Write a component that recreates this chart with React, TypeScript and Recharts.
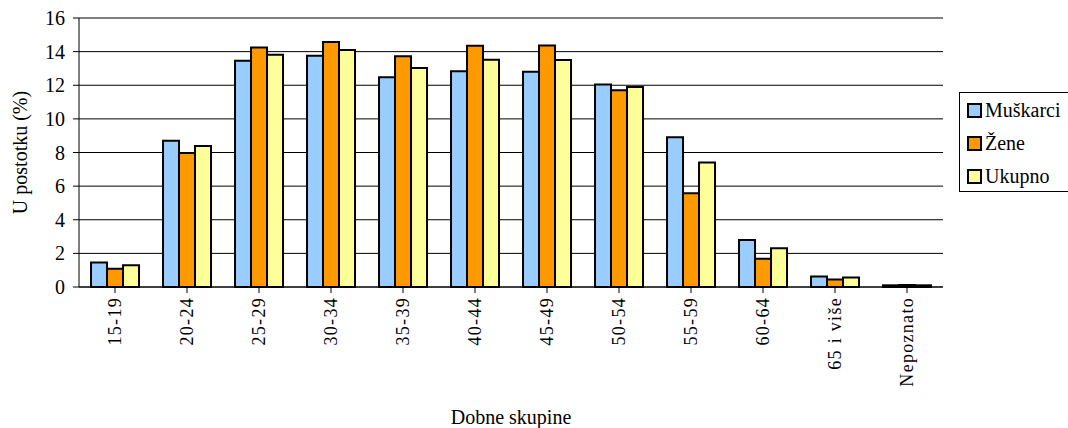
import { Bar, BarChart, CartesianGrid, XAxis, YAxis } from "recharts"

const categories = ["15-19", "20-24", "25-29", "30-34", "35-39", "40-44", "45-49", "50-54", "55-59", "60-64", "65 i više", "Nepoznato"]
const muskarci = [1.45, 8.7, 13.45, 13.75, 12.48, 12.83, 12.8, 12.05, 8.9, 2.8, 0.62, 0.1]
const zene = [1.08, 7.97, 14.25, 14.57, 13.72, 14.35, 14.37, 11.7, 5.58, 1.68, 0.44, 0.12]
const ukupno = [1.3, 8.38, 13.82, 14.1, 13.03, 13.52, 13.5, 11.9, 7.4, 2.3, 0.56, 0.1]
const yTicks = [0, 2, 4, 6, 8, 10, 12, 14, 16]

const seriesNames = ["Muškarci", "Žene", "Ukupno"]
const seriesColors = ["#99CCFF", "#FF9900", "#FFFF99"]

const data = categories.map((c, i) => ({
	name: c,
	m: muskarci[i],
	z: zene[i],
	u: ukupno[i],
}))

const font = "'Liberation Serif', 'DejaVu Serif', Georgia, serif"

const XTick = (props: any) => {
	const { x, y, payload } = props
	return (
		<text
			x={x}
			y={y + 2}
			transform={`rotate(-90 ${x} ${y + 2})`}
			textAnchor="end"
			dominantBaseline="central"
			style={{ fontFamily: font, fontSize: 18, letterSpacing: 1.3 }}
			fill="#000"
		>
			{payload.value}
		</text>
	)
}

const LegendBox = () => (
	<div
		style={{
			position: "absolute",
			left: 959,
			top: 92,
			width: 115,
			height: 100,
			border: "1px solid #000",
			background: "#fff",
			padding: "1px 0 0 7px",
			fontFamily: font,
			fontSize: 20,
			color: "#000",
			boxSizing: "border-box",
		}}
	>
		{seriesNames.map((n, i) => (
			<div key={n} style={{ display: "flex", alignItems: "center", height: 33, whiteSpace: "nowrap" }}>
				<span
					style={{
						display: "inline-block",
						width: 11,
						height: 11,
						border: "2px solid #000",
						background: seriesColors[i],
						marginRight: 3,
					}}
				/>
				{n}
			</div>
		))}
	</div>
)

export default function App() {
	return (
		<div style={{ position: "absolute", left: 0, top: 0, width: 1068, height: 428, background: "#fff", fontFamily: font, overflow: "hidden" }}>
			<BarChart
				width={1068}
				height={428}
				data={data}
				margin={{ top: 18, right: 125, left: 0, bottom: 0 }}
				barCategoryGap="16.7%"
				barGap={0}
				style={{ fontFamily: font }}
			>
				<CartesianGrid vertical={false} stroke="#000" strokeWidth={1} />
				<XAxis
					dataKey="name"
					height={141}
					interval={0}
					tick={<XTick />}
					tickSize={6}
					tickLine={{ stroke: "#000" }}
					axisLine={{ stroke: "#000" }}
					label={{ value: "Dobne skupine", position: "insideBottom", offset: 4, style: { fontFamily: font, fontSize: 20 }, fill: "#000" }}
				/>
				<XAxis xAxisId="top" dataKey="name" orientation="top" height={0} tick={false} tickLine={false} axisLine={{ stroke: "#808080", strokeWidth: 2 }} />
				<YAxis
					width={79}
					domain={[0, 16]}
					ticks={yTicks}
					interval={0}
					tickSize={6}
					tickMargin={8}
					tick={{ style: { fontFamily: font, fontSize: 20 }, fill: "#000" }}
					tickLine={{ stroke: "#000" }}
					axisLine={{ stroke: "#000" }}
					label={{ value: "U postotku (%)", angle: -90, position: "insideLeft", offset: 20, fill: "#000", style: { textAnchor: "middle", fontFamily: font, fontSize: 20 } }}
				/>
				<YAxis yAxisId="r" orientation="right" width={0} domain={[0, 16]} tick={false} tickLine={false} axisLine={{ stroke: "#808080", strokeWidth: 2 }} />
				<Bar dataKey="m" name={seriesNames[0]} fill={seriesColors[0]} stroke="#000" strokeWidth={2} isAnimationActive={false} />
				<Bar dataKey="z" name={seriesNames[1]} fill={seriesColors[1]} stroke="#000" strokeWidth={2} isAnimationActive={false} />
				<Bar dataKey="u" name={seriesNames[2]} fill={seriesColors[2]} stroke="#000" strokeWidth={2} isAnimationActive={false} />
			</BarChart>
			<LegendBox />
		</div>
	)
}
